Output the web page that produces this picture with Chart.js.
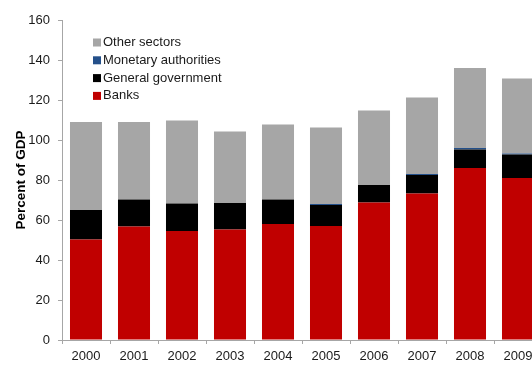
<!DOCTYPE html>
<html>
<head>
<meta charset="utf-8">
<script src="https://cdn.jsdelivr.net/npm/chart.js@4"></script>
<style>
    html, body { margin: 0; padding: 0; overflow: hidden; background: #fff; }
    #wrap { position: relative; width: 546px; height: 365px; }
</style>
</head>
<body>
<div id="wrap"><canvas id="debtChart"></canvas></div>
<script>
const years = ["2000", "2001", "2002", "2003", "2004", "2005", "2006", "2007", "2008", "2009"];
const banks = [50.3, 56.7, 54.5, 55.3, 58.0, 57.0, 68.8, 73.3, 86.0, 81.0];
const generalGovernment = [14.7, 13.5, 13.7, 13.2, 12.3, 10.5, 8.7, 9.2, 9.2, 11.7];
const monetaryAuthorities = [0, 0, 0, 0, 0, 0.5, 0, 0.5, 0.8, 0.5];
const otherSectors = [44.0, 38.8, 41.6, 35.8, 37.5, 38.2, 37.3, 38.2, 40.0, 37.5];
const yTicks = [0, 20, 40, 60, 80, 100, 120, 140, 160];

const axisColor = "#a6a6a6";
const fontFamily = "'Liberation Sans', Arial, sans-serif";

// legend drawn inside the plot, top-left, in reverse stacking order
const insideLegend = {
    id: "insideLegend",
    afterDraw(chart) {
        const ctx = chart.ctx;
        const items = chart.data.datasets.slice().reverse();
        ctx.save();
        ctx.font = "13px " + fontFamily;
        ctx.textBaseline = "middle";
        items.forEach((ds, i) => {
            const y = 42.5 + i * 17.8;
            ctx.fillStyle = ds.backgroundColor;
            ctx.fillRect(93, y - 4, 8, 8);
            ctx.fillStyle = "#1a1a1a";
            ctx.fillText(ds.label, 103, y);
        });
        ctx.restore();
    }
};

const ctx = document.getElementById("debtChart").getContext("2d");
new Chart(ctx, {
    type: "bar",
    data: {
        labels: years,
        datasets: [
            { label: "Banks", data: banks, backgroundColor: "#c00000" },
            { label: "General government", data: generalGovernment, backgroundColor: "#000000" },
            { label: "Monetary authorities", data: monetaryAuthorities, backgroundColor: "#24508a" },
            { label: "Other sectors", data: otherSectors, backgroundColor: "#a6a6a6" }
        ]
    },
    options: {
        responsive: true,
        maintainAspectRatio: false,
        animation: false,
        categoryPercentage: 1,
        barPercentage: 0.667,
        layout: { padding: { top: 20, right: 4, left: 0, bottom: 0 } },
        plugins: {
            legend: { display: false },
            tooltip: { enabled: false }
        },
        scales: {
            x: {
                stacked: true,
                grid: { display: true, drawOnChartArea: false, offset: true, tickLength: 4, color: axisColor },
                border: { color: axisColor, width: 1 },
                ticks: { color: "#1a1a1a", font: { family: fontFamily, size: 13 }, padding: 5, maxRotation: 0 },
                afterFit(scale) { scale.height = 25; }
            },
            y: {
                stacked: true,
                min: 0,
                max: 160,
                afterBuildTicks(scale) { scale.ticks = yTicks.map(v => ({ value: v })); },
                grid: { display: true, drawOnChartArea: false, tickLength: 4, color: axisColor },
                border: { color: axisColor, width: 1 },
                ticks: { color: "#1a1a1a", font: { family: fontFamily, size: 13 }, padding: 8 },
                title: {
                    display: true,
                    text: "Percent of GDP",
                    color: "#000",
                    font: { family: fontFamily, size: 13.5, weight: "bold" },
                    padding: { top: 13, bottom: 0 }
                },
                afterFit(scale) { scale.width = 62; }
            }
        }
    },
    plugins: [insideLegend]
});
</script>
</body>
</html>
